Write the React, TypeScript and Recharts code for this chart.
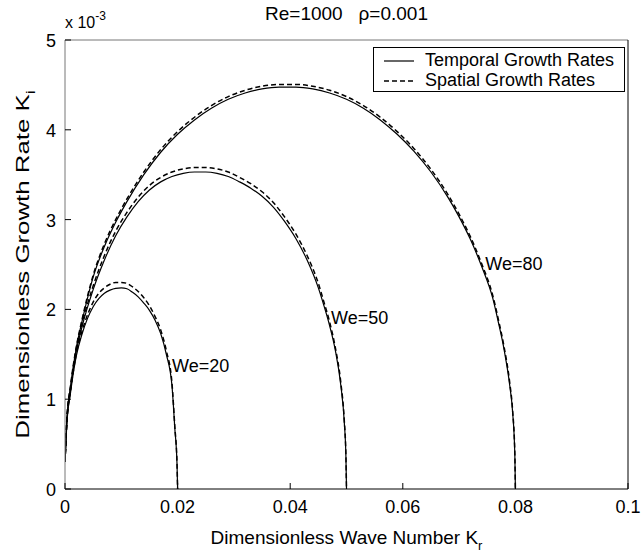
import React from 'react';
import { LineChart, Line, XAxis, YAxis, Legend, ReferenceDot } from 'recharts';

const FONT = '"Liberation Sans", Arial, Helvetica, sans-serif';
// the rotated y title in the source runs much longer than its glyph size suggests
const Y_TITLE_STRETCH = 1.36;

const xTicks = [0, 0.02, 0.04, 0.06, 0.08, 0.1];
const yTicks = [0, 1, 2, 3, 4, 5];

// We = 20
const we20Kr = [0, 0.0003, 0.001, 0.002, 0.003, 0.004, 0.005, 0.006, 0.007, 0.008, 0.009, 0.01, 0.011, 0.012, 0.013, 0.014, 0.015, 0.016, 0.017, 0.018, 0.019, 0.0195, 0.0199, 0.02];
const we20Temporal = [0.3, 0.7, 1.08, 1.48, 1.72, 1.9, 2.03, 2.12, 2.18, 2.215, 2.235, 2.24, 2.23, 2.19, 2.14, 2.07, 1.99, 1.88, 1.73, 1.5, 1.15, 0.68, 0.27, 0];
const we20Spatial = [0.3, 0.71, 1.1, 1.5, 1.75, 1.94, 2.08, 2.18, 2.24, 2.28, 2.3, 2.3, 2.29, 2.25, 2.2, 2.13, 2.04, 1.92, 1.77, 1.54, 1.18, 0.7, 0.28, 0];

// We = 50
const we50Kr = [0, 0.0003, 0.001, 0.002, 0.003, 0.005, 0.007, 0.009, 0.011, 0.013, 0.015, 0.017, 0.019, 0.021, 0.023, 0.025, 0.027, 0.029, 0.031, 0.033, 0.035, 0.037, 0.039, 0.041, 0.043, 0.045, 0.046, 0.047, 0.048, 0.049, 0.0496, 0.0499, 0.05];
const we50Temporal = [0.3, 0.72, 1.12, 1.53, 1.8, 2.22, 2.55, 2.82, 3.03, 3.2, 3.33, 3.42, 3.48, 3.515, 3.53, 3.53, 3.515, 3.48, 3.42, 3.35, 3.26, 3.14, 2.98, 2.79, 2.55, 2.24, 2.04, 1.82, 1.55, 1.15, 0.75, 0.35, 0];
const we50Spatial = [0.3, 0.73, 1.13, 1.55, 1.83, 2.26, 2.6, 2.87, 3.08, 3.25, 3.38, 3.47, 3.53, 3.565, 3.58, 3.58, 3.565, 3.53, 3.47, 3.4, 3.31, 3.19, 3.03, 2.84, 2.6, 2.29, 2.08, 1.86, 1.58, 1.18, 0.77, 0.36, 0];

// We = 80
const we80Kr = [0, 0.0003, 0.001, 0.002, 0.003, 0.005, 0.007, 0.009, 0.011, 0.014, 0.017, 0.02, 0.023, 0.026, 0.029, 0.032, 0.035, 0.038, 0.041, 0.044, 0.047, 0.05, 0.053, 0.056, 0.059, 0.062, 0.065, 0.068, 0.07, 0.072, 0.074, 0.076, 0.077, 0.078, 0.079, 0.0795, 0.0799, 0.08];
const we80Temporal = [0.3, 0.74, 1.15, 1.57, 1.86, 2.36, 2.7, 2.97, 3.2, 3.5, 3.75, 3.95, 4.11, 4.24, 4.34, 4.41, 4.455, 4.475, 4.475, 4.455, 4.41, 4.34, 4.24, 4.11, 3.95, 3.76, 3.53, 3.25, 3.03, 2.78, 2.48, 2.12, 1.85, 1.55, 1.15, 0.86, 0.38, 0];
const we80Spatial = [0.3, 0.75, 1.16, 1.58, 1.88, 2.38, 2.73, 3.0, 3.23, 3.53, 3.78, 3.98, 4.14, 4.27, 4.37, 4.44, 4.485, 4.505, 4.505, 4.485, 4.44, 4.37, 4.27, 4.14, 3.98, 3.79, 3.56, 3.28, 3.06, 2.81, 2.51, 2.15, 1.88, 1.58, 1.18, 0.88, 0.39, 0];

const curveLabels = [
  { text: 'We=20', kr: 0.01865, ki: 1.38 },
  { text: 'We=50', kr: 0.0469, ki: 1.92 },
  { text: 'We=80', kr: 0.0743, ki: 2.52 },
];

const toRows = (kr: number[], ki: number[]) => kr.map((x, i) => ({ kr: x, ki: ki[i] }));

const series = [
  { id: 't20', data: toRows(we20Kr, we20Temporal), dashed: false },
  { id: 's20', data: toRows(we20Kr, we20Spatial), dashed: true },
  { id: 't50', data: toRows(we50Kr, we50Temporal), dashed: false },
  { id: 's50', data: toRows(we50Kr, we50Spatial), dashed: true },
  { id: 't80', data: toRows(we80Kr, we80Temporal), dashed: false },
  { id: 's80', data: toRows(we80Kr, we80Spatial), dashed: true },
];

const T = ({ x, y, anchor = 'start', size = 18, children }: any) => (
  <text x={x} y={y} textAnchor={anchor} fontSize={size} fontFamily={FONT} fill="#000">
    {children}
  </text>
);

const BottomTick = ({ x, y, payload }: any) => (
  <g>
    <line x1={x} y1={y} x2={x} y2={y - 6} stroke="#000" />
    <T x={x} y={y + 24} anchor="middle">{String(payload.value)}</T>
  </g>
);

const TopTick = ({ x, y }: any) => <line x1={x} y1={y} x2={x} y2={y + 6} stroke="#000" />;

const LeftTick = ({ x, y, payload }: any) => (
  <g>
    <line x1={x} y1={y} x2={x + 6} y2={y} stroke="#000" />
    <T x={x - 9} y={y + 7} anchor="end">{String(payload.value)}</T>
  </g>
);

const RightTick = ({ x, y }: any) => <line x1={x} y1={y} x2={x - 6} y2={y} stroke="#000" />;

const XTitle = ({ viewBox }: any) => (
  <T x={viewBox.x + viewBox.width / 2} y={viewBox.y + 55} anchor="middle" size={19}>
    Dimensionless Wave Number K<tspan dy={6} fontSize={13}>r</tspan>
  </T>
);

const YTitle = ({ viewBox }: any) => {
  const cx = 29;
  const cy = viewBox.y + viewBox.height / 2;
  return (
    <text
      transform={`translate(${cx} ${cy}) scale(1 ${Y_TITLE_STRETCH}) rotate(-90)`}
      textAnchor="middle"
      fontSize={19}
      fontFamily={FONT}
      fill="#000"
    >
      Dimensionless Growth Rate K<tspan dy={6} fontSize={13}>i</tspan>
    </text>
  );
};

const TopTitle = ({ viewBox }: any) => (
  <g>
    <T x={viewBox.x + viewBox.width / 2} y={20} anchor="middle" size={19}>
      Re=1000{'\u00a0\u00a0\u00a0'}ρ=0.001
    </T>
    <T x={viewBox.x} y={28} size={16}>
      x 10<tspan dy={-8} fontSize={12}>-3</tspan>
    </T>
  </g>
);

const curveLabel = (text: string) => ({ viewBox }: any) => (
  <T x={viewBox.x + viewBox.width + 2} y={viewBox.y + viewBox.height / 2 + 7}>{text}</T>
);

const LegendBox = () => (
  <div
    style={{
      position: 'relative',
      width: 252,
      height: 45,
      border: '1px solid #000',
      background: '#fff',
      boxSizing: 'border-box',
      fontFamily: FONT,
      fontSize: 18,
      color: '#000',
    }}
  >
    {[false, true].map((dashed, i) => (
      <div key={i} style={{ position: 'absolute', left: 0, top: 2 + i * 20, width: 248, height: 20, whiteSpace: 'nowrap' }}>
        <svg width={50} height={20} style={{ position: 'absolute', left: 0, top: 0 }}>
          <line x1={10} x2={40} y1={11} y2={11} stroke="#000" strokeWidth={dashed ? 1.5 : 1.2} strokeDasharray={dashed ? '5 3' : undefined} />
        </svg>
        <span style={{ position: 'absolute', left: 51, top: 0, lineHeight: '20px' }}>
          {dashed ? 'Spatial Growth Rates' : 'Temporal Growth Rates'}
        </span>
      </div>
    ))}
  </div>
);

export default function App() {
  return (
    <div style={{ position: 'absolute', left: 0, top: 0, background: '#fff' }}>
      <LineChart width={644} height={557} margin={{ top: 39, right: 15, bottom: 67, left: 64 }}>
        <XAxis
          dataKey="kr"
          type="number"
          domain={[0, 0.1]}
          ticks={xTicks}
          height={1}
          tickSize={0}
          tickMargin={0}
          tickLine={false}
          tick={<BottomTick />}
          axisLine={{ stroke: '#000' }}
          label={{ content: <XTitle /> }}
          allowDataOverflow
        />
        <XAxis
          xAxisId="top"
          orientation="top"
          dataKey="kr"
          type="number"
          domain={[0, 0.1]}
          ticks={xTicks}
          height={1}
          tickSize={0}
          tickMargin={0}
          tickLine={false}
          tick={<TopTick />}
          axisLine={{ stroke: '#777' }}
          label={{ content: <TopTitle /> }}
        />
        <YAxis
          type="number"
          domain={[0, 5]}
          ticks={yTicks}
          width={1}
          tickSize={0}
          tickMargin={0}
          tickLine={false}
          tick={<LeftTick />}
          axisLine={{ stroke: '#777' }}
          label={{ content: <YTitle /> }}
        />
        <YAxis
          yAxisId="right"
          orientation="right"
          type="number"
          domain={[0, 5]}
          ticks={yTicks}
          width={1}
          tickSize={0}
          tickMargin={0}
          tickLine={false}
          tick={<RightTick />}
          axisLine={{ stroke: '#000' }}
        />
        <Legend
          layout="vertical"
          align="center"
          verticalAlign="middle"
          content={<LegendBox />}
          wrapperStyle={{ position: 'absolute', left: 373, top: 47, width: 252, height: 45 }}
        />
        {series.map((s) => (
          <Line
            key={s.id}
            data={s.data}
            dataKey="ki"
            type="monotone"
            stroke="#000"
            strokeWidth={s.dashed ? 1.5 : 1.2}
            strokeDasharray={s.dashed ? '5 3' : undefined}
            dot={false}
            activeDot={false}
            legendType="none"
            isAnimationActive={false}
          />
        ))}
        {curveLabels.map((l) => (
          <ReferenceDot
            key={l.text}
            x={l.kr}
            y={l.ki}
            r={0}
            fill="none"
            stroke="none"
            label={{ content: curveLabel(l.text) }}
          />
        ))}
      </LineChart>
    </div>
  );
}
